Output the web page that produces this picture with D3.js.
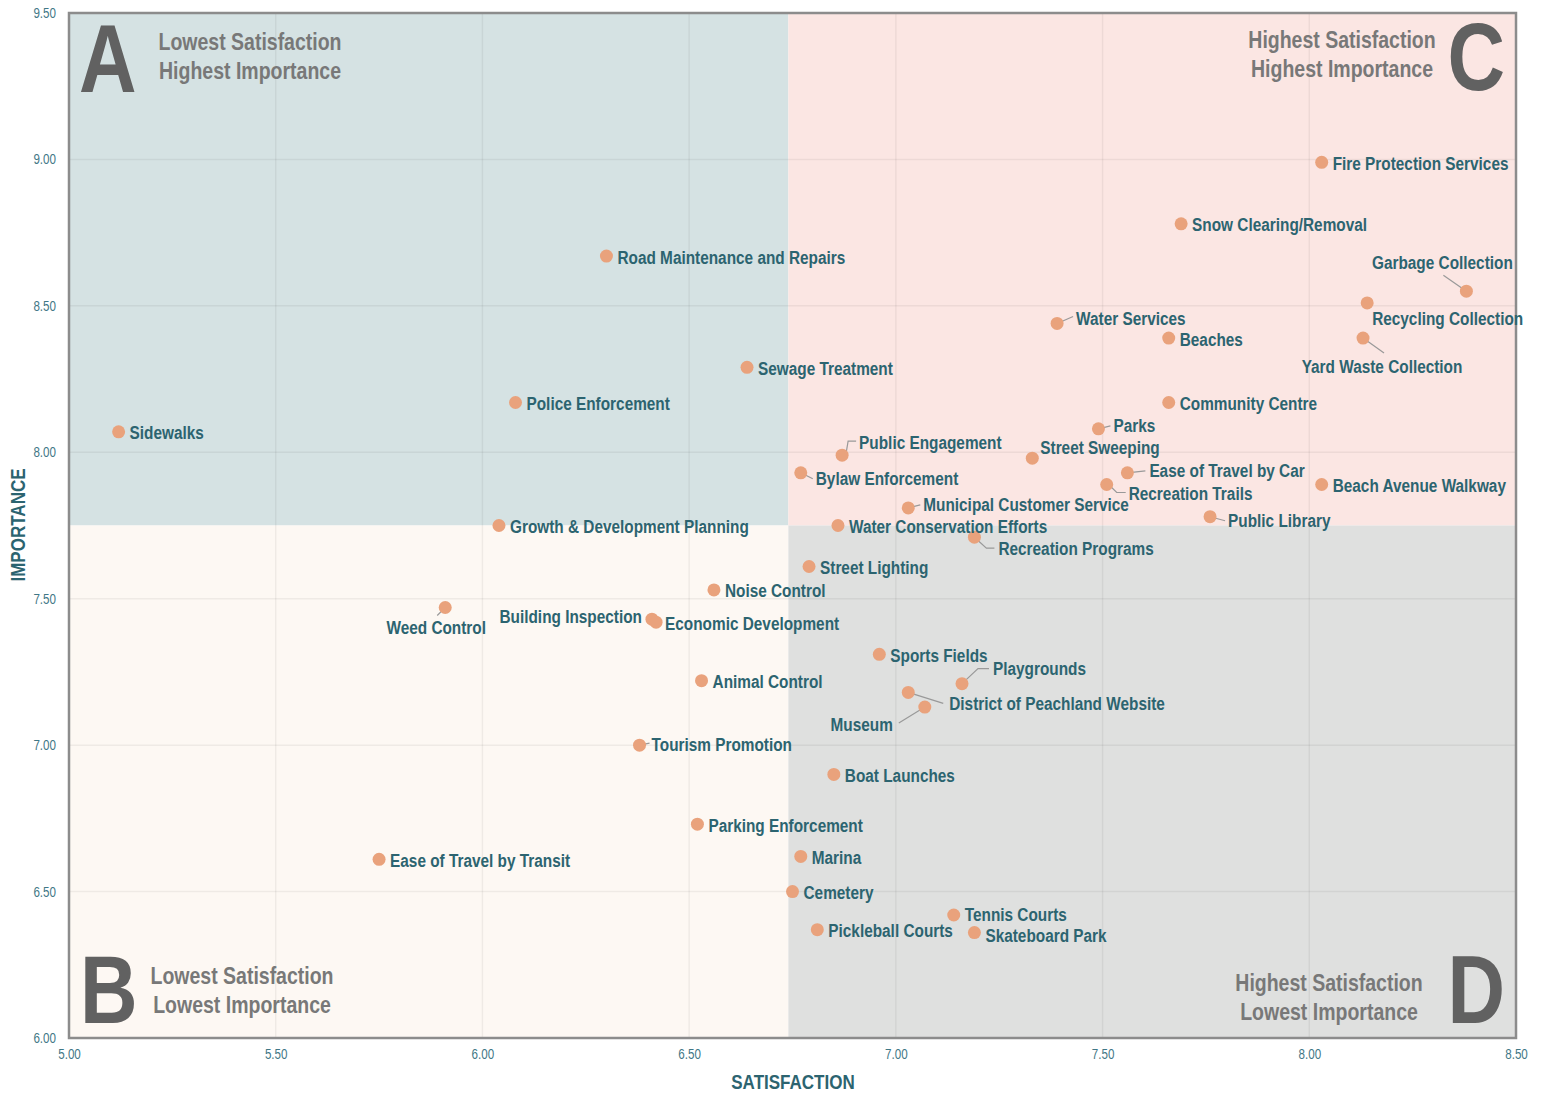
<!DOCTYPE html>
<html>
<head>
<meta charset="utf-8">
<script src="https://cdn.jsdelivr.net/npm/d3@7"></script>
<style>
  body { margin: 0; background: #fff; }
  svg text { font-family: "Liberation Sans", Arial, sans-serif; }
</style>
</head>
<body>
<div id="chart"></div>
<script>
// services, satisfaction (x) and importance (y)
var names = [
  "Fire Protection Services", "Snow Clearing/Removal", "Garbage Collection", "Recycling Collection",
  "Yard Waste Collection", "Water Services", "Beaches", "Road Maintenance and Repairs",
  "Sewage Treatment", "Police Enforcement", "Sidewalks", "Community Centre",
  "Parks", "Street Sweeping", "Public Engagement", "Bylaw Enforcement",
  "Ease of Travel by Car", "Recreation Trails", "Beach Avenue Walkway", "Municipal Customer Service",
  "Public Library", "Water Conservation Efforts", "Growth & Development Planning", "Recreation Programs",
  "Street Lighting", "Noise Control", "Weed Control", "Building Inspection",
  "Economic Development", "Sports Fields", "Playgrounds", "Animal Control",
  "District of Peachland Website", "Museum", "Tourism Promotion", "Boat Launches",
  "Parking Enforcement", "Ease of Travel by Transit", "Marina", "Cemetery",
  "Tennis Courts", "Pickleball Courts", "Skateboard Park"
];
var satisfaction = [
  8.03, 7.69, 8.38, 8.14,
  8.13, 7.39, 7.66, 6.30,
  6.64, 6.08, 5.12, 7.66,
  7.49, 7.33, 6.87, 6.77,
  7.56, 7.51, 8.03, 7.03,
  7.76, 6.86, 6.04, 7.19,
  6.79, 6.56, 5.91, 6.41,
  6.42, 6.96, 7.16, 6.53,
  7.03, 7.07, 6.38, 6.85,
  6.52, 5.75, 6.77, 6.75,
  7.14, 6.81, 7.19
];
var importance = [
  8.99, 8.78, 8.55, 8.51,
  8.39, 8.44, 8.39, 8.67,
  8.29, 8.17, 8.07, 8.17,
  8.08, 7.98, 7.99, 7.93,
  7.93, 7.89, 7.89, 7.81,
  7.78, 7.75, 7.75, 7.71,
  7.61, 7.53, 7.47, 7.43,
  7.42, 7.31, 7.21, 7.22,
  7.18, 7.13, 7.00, 6.90,
  6.73, 6.61, 6.62, 6.50,
  6.42, 6.37, 6.36
];
var xTicks = [5.0, 5.5, 6.0, 6.5, 7.0, 7.5, 8.0, 8.5];
var yTicks = [6.0, 6.5, 7.0, 7.5, 8.0, 8.5, 9.0, 9.5];
var splitX = 6.74, splitY = 7.75;
var quadrants = [
  {letter: "A", lines: ["Lowest Satisfaction", "Highest Importance"]},
  {letter: "B", lines: ["Lowest Satisfaction", "Lowest Importance"]},
  {letter: "C", lines: ["Highest Satisfaction", "Highest Importance"]},
  {letter: "D", lines: ["Highest Satisfaction", "Lowest Importance"]}
];

// label placement (pixels from dot), leader drawn when lead is set
var labelPlace = {
  "Garbage Collection": {dx: -24, dy: -29, anchor: "middle", lead: [-23, -16]},
  "Recycling Collection": {dx: 5, dy: 16},
  "Yard Waste Collection": {dx: 19, dy: 28, anchor: "middle", lead: [21, 15]},
  "Water Services": {dx: 19, dy: -5, lead: [16, -7]},
  "Parks": {dx: 15, dy: -3, lead: [12, -3]},
  "Street Sweeping": {dx: 8, dy: -11},
  "Public Engagement": {dx: 17, dy: -13, lead: [4, -2, 6, -14, 14, -14]},
  "Bylaw Enforcement": {dx: 15, dy: 6, lead: [12, 6]},
  "Ease of Travel by Car": {dx: 22, dy: -2, lead: [18, -2]},
  "Recreation Trails": {dx: 22, dy: 9, lead: [4, 2, 10, 8, 19, 8]},
  "Municipal Customer Service": {dx: 15, dy: -3, lead: [12, -3]},
  "Public Library": {dx: 18, dy: 4, lead: [15, 4]},
  "Recreation Programs": {dx: 24, dy: 11, lead: [12, 11, 20, 11]},
  "Weed Control": {dx: -9, dy: 20, anchor: "middle", lead: [-8, 8]},
  "Building Inspection": {dx: -10, dy: -3, anchor: "end"},
  "Economic Development": {dx: 9, dy: 1},
  "Playgrounds": {dx: 31, dy: -15, lead: [16, -15, 27, -15]},
  "District of Peachland Website": {dx: 41, dy: 11, lead: [35, 11]},
  "Museum": {dx: -32, dy: 17, anchor: "end", lead: [-26, 16]},
  "Tourism Promotion": {dx: 12, dy: -1, lead: [10, -2]},
  "Tennis Courts": {dx: 11, dy: 0},
  "Skateboard Park": {dx: 11, dy: 3}
};

var W = 1543, H = 1095;
var margin = {top: 13, right: 27, bottom: 57, left: 69};
var NARROW = 0.83;   // squeeze Liberation Sans towards a narrow face

var svg = d3.select("#chart").append("svg")
  .attr("width", W).attr("height", H);

var x = d3.scaleLinear().domain([5, 8.5]).range([margin.left, W - margin.right]);
var y = d3.scaleLinear().domain([6, 9.5]).range([H - margin.bottom, margin.top]);

// place a narrow text at px,py
function narrowText(g, px, py) {
  return g.append("text")
    .attr("transform", "translate(" + px + "," + py + ") scale(" + NARROW + ",1)");
}

var quadColors = {A: "#d5e2e3", B: "#fdf8f3", C: "#fbe6e3", D: "#dfe0df"};
var qRects = [
  {q: "A", x0: 5, x1: splitX, y0: splitY, y1: 9.5},
  {q: "B", x0: 5, x1: splitX, y0: 6, y1: splitY},
  {q: "C", x0: splitX, x1: 8.5, y0: splitY, y1: 9.5},
  {q: "D", x0: splitX, x1: 8.5, y0: 6, y1: splitY}
];
svg.append("g").selectAll("rect").data(qRects).join("rect")
  .attr("x", function(d) { return x(d.x0); })
  .attr("y", function(d) { return y(d.y1); })
  .attr("width", function(d) { return x(d.x1) - x(d.x0); })
  .attr("height", function(d) { return y(d.y0) - y(d.y1); })
  .attr("fill", function(d) { return quadColors[d.q]; });

// grid
var grid = svg.append("g").attr("stroke", "#000").attr("stroke-opacity", 0.055).attr("stroke-width", 1.5);
grid.selectAll(".gx").data(xTicks.slice(1, -1)).join("line")
  .attr("x1", function(d) { return x(d); }).attr("x2", function(d) { return x(d); })
  .attr("y1", y(6)).attr("y2", y(9.5));
grid.selectAll(".gy").data(yTicks.slice(1, -1)).join("line")
  .attr("y1", function(d) { return y(d); }).attr("y2", function(d) { return y(d); })
  .attr("x1", x(5)).attr("x2", x(8.5));

// quadrant letters and captions
var qLayout = {
  A: {lx: 79, ly: 92, anchor: "start", tx: 250, ty: 42},
  B: {lx: 80, ly: 1023, anchor: "start", tx: 242, ty: 976},
  C: {lx: 1505, ly: 90, anchor: "end", tx: 1342, ty: 40},
  D: {lx: 1505, ly: 1023, anchor: "end", tx: 1329, ty: 983}
};
var qg = svg.append("g");
quadrants.forEach(function(q) {
  var L = qLayout[q.letter];
  narrowText(qg, L.lx, L.ly)
    .attr("text-anchor", L.anchor)
    .attr("font-size", 96).attr("font-weight", "bold")
    .attr("fill", "#616161")
    .text(q.letter);
  q.lines.forEach(function(line, i) {
    narrowText(qg, L.tx, L.ty + i * 29)
      .attr("dy", "0.35em")
      .attr("text-anchor", "middle")
      .attr("font-size", 23.5).attr("font-weight", "bold")
      .attr("fill", "#787878")
      .text(line);
  });
});

// frame
svg.append("rect")
  .attr("x", x(5)).attr("y", y(9.5))
  .attr("width", x(8.5) - x(5)).attr("height", y(6) - y(9.5))
  .attr("fill", "none").attr("stroke", "#8c8c8c").attr("stroke-width", 2.5);

// axes
var tickColor = "#3f7786";
var xAxis = svg.append("g")
  .attr("transform", "translate(0," + y(6) + ")")
  .call(d3.axisBottom(x).tickValues(xTicks).tickFormat(d3.format(".2f")).tickSize(0).tickPadding(11));
var yAxis = svg.append("g")
  .attr("transform", "translate(" + x(5) + ",0)")
  .call(d3.axisLeft(y).tickValues(yTicks).tickFormat(d3.format(".2f")).tickSize(0).tickPadding(13));
[xAxis, yAxis].forEach(function(a) {
  a.select(".domain").remove();
  a.selectAll(".tick text").each(function() {
    var t = d3.select(this);
    var tx = +t.attr("x") || 0, ty = +t.attr("y") || 0;
    t.attr("x", 0).attr("y", 0)
      .attr("transform", "translate(" + tx + "," + ty + ") scale(" + NARROW + ",1)");
  })
    .style("font-family", "'Liberation Sans', Arial, sans-serif")
    .attr("font-size", 14).attr("fill", tickColor);
});

narrowText(svg, 793, 1082)
  .attr("dy", "0.35em")
  .attr("text-anchor", "middle")
  .attr("font-size", 20.5).attr("font-weight", "bold").attr("fill", "#2c6470")
  .text("SATISFACTION");
svg.append("text")
  .attr("transform", "translate(18,525) rotate(-90) scale(" + NARROW + ",1)")
  .attr("dy", "0.35em")
  .attr("text-anchor", "middle")
  .attr("font-size", 20.5).attr("font-weight", "bold").attr("fill", "#2c6470")
  .text("IMPORTANCE");

// points
var pts = names.map(function(n, i) {
  return {name: n, sat: satisfaction[i], imp: importance[i]};
});

var leaders = svg.append("g").attr("fill", "none").attr("stroke", "#999").attr("stroke-width", 1.2);
pts.forEach(function(d) {
  var p = labelPlace[d.name];
  if (!p || !p.lead) return;
  var cx = x(d.sat), cy = y(d.imp);
  var pathPts = [[cx, cy]];
  for (var k = 0; k < p.lead.length; k += 2) pathPts.push([cx + p.lead[k], cy + p.lead[k + 1]]);
  leaders.append("path").attr("d", d3.line()(pathPts));
});

svg.append("g").selectAll("circle").data(pts).join("circle")
  .attr("cx", function(d) { return x(d.sat); })
  .attr("cy", function(d) { return y(d.imp); })
  .attr("r", 6.5)
  .attr("fill", "#e9a27c");

svg.append("g").selectAll("text").data(pts).join("text")
  .attr("transform", function(d) {
    var p = labelPlace[d.name];
    var lx = x(d.sat) + (p ? p.dx : 11), ly = y(d.imp) + (p ? p.dy : 1);
    return "translate(" + lx + "," + ly + ") scale(" + NARROW + ",1)";
  })
  .attr("dy", "0.35em")
  .attr("text-anchor", function(d) { var p = labelPlace[d.name]; return p && p.anchor ? p.anchor : "start"; })
  .attr("font-size", 18.5).attr("font-weight", "bold")
  .attr("fill", "#2c6470")
  .text(function(d) { return d.name; });
</script>
</body>
</html>
